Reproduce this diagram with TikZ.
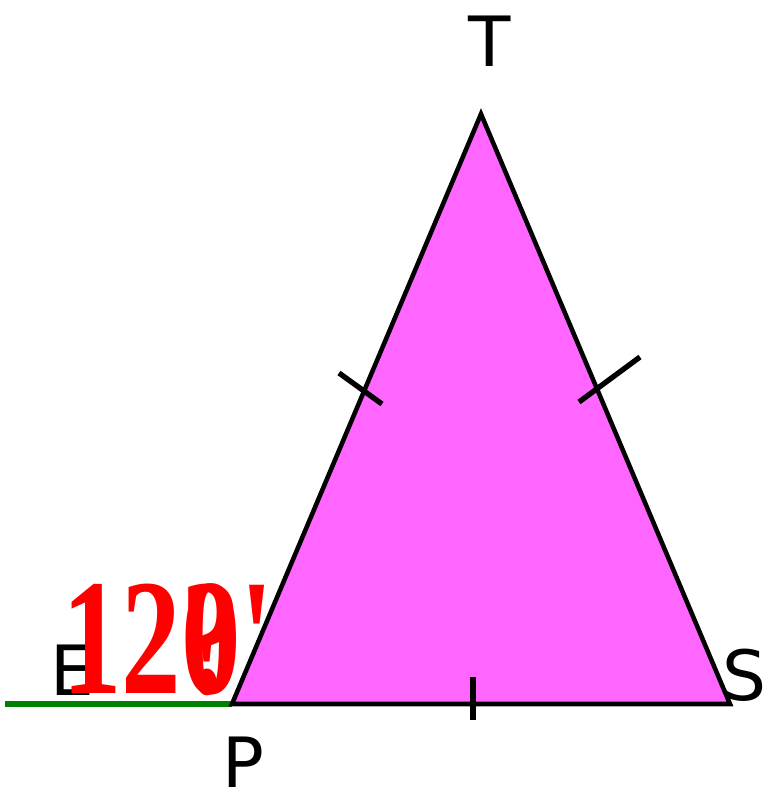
\documentclass[tikz,border=0pt]{standalone}
\usepackage{fontspec}
\setmainfont{Liberation Serif}
\newfontfamily\labfont{DejaVu Sans}
\newfontfamily\redfont{Liberation Serif}
\begin{document}
\begin{tikzpicture}[x=0.75pt,y=-0.75pt,
  side/.style={line width=3.4pt,line join=miter},
  tick/.style={line width=4pt},
  lab/.style={font=\labfont\fontsize{52}{58}\selectfont,inner sep=0pt},
  redlab/.style={font=\redfont\bfseries\fontsize{124}{130}\selectfont,text=red,inner sep=0pt}]
\useasboundingbox (0,0) rectangle (770,801);
\coordinate (P) at (232,704);
\coordinate (S) at (730,704);
\coordinate (T) at (481,114);
\coordinate (E0) at (5,704);
\fill[fill={rgb,255:red,255;green,102;blue,255}] (P) -- (S) -- (T) -- cycle;
\draw[line width=4pt,color={rgb,255:red,0;green,128;blue,0}] (E0) -- (P);
\draw[side] (P) -- (S) -- (T) -- cycle;
\coordinate (tl1) at (339,373); \coordinate (tl2) at (382,404);
\coordinate (tr1) at (579,402); \coordinate (tr2) at (640,357);
\coordinate (tb1) at (473,677); \coordinate (tb2) at (473,720);
\draw[tick] (tl1) -- (tl2);
\draw[tick] (tr1) -- (tr2);
\draw[tick] (tb1) -- (tb2);
\node[lab] (lT) at (490,41) {T};
\node[lab] (lS) at (745,675) {S};
\node[lab] (lP) at (243,762) {P};
\node[lab] (lE) at (72,670) {E};
\node[redlab,anchor=base west] (ang) at (62,693) {\scalebox{0.72}[1]{12\rlap{\makebox[0.5em]{?}}0\textquotesingle}};
\end{tikzpicture}
\end{document}
